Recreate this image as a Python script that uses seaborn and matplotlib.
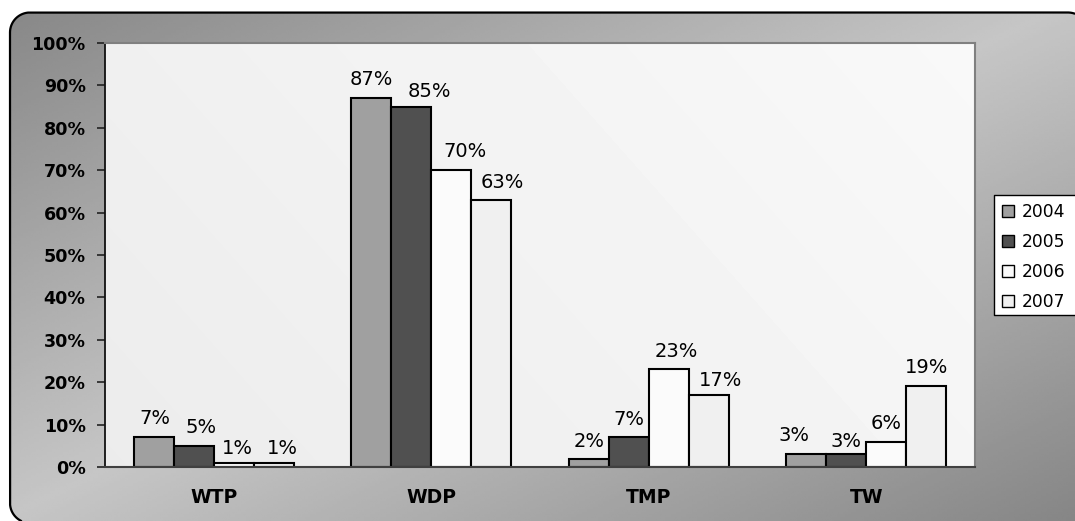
import numpy as np
import pandas as pd
import matplotlib
matplotlib.use("Agg")
import matplotlib.pyplot as plt
import seaborn as sns
from matplotlib.patches import PathPatch, Patch, Rectangle
from matplotlib.path import Path
from matplotlib.lines import Line2D
from matplotlib.transforms import Bbox

# Share of each process per year (percent)
categories = ["WTP", "WDP", "TMP", "TW"]
years = ["2004", "2005", "2006", "2007"]
v2004 = [7, 87, 2, 3]
v2005 = [5, 85, 7, 3]
v2006 = [1, 70, 23, 6]
v2007 = [1, 63, 17, 19]
yticks = list(range(0, 101, 10))
ytick_labels = [f"{t}%" for t in yticks]

series = [v2004, v2005, v2006, v2007]
colors = ["#a0a0a0", "#505050", "#fbfbfb", "#f0f0f0"]

# Label nudges (pixels): horizontal shift and gap between bar top and baseline
label_dx = [[1, 0, 0, -12], [7.5, 18.5, 0.5, 0], [4, 13.5, 8, 0], [9, 11, 11.5, 0]]
label_gap = [[13, 13, 12, 13.5], [12.5, 10, 12, 7.6], [8.8, 13, 12, 12.6], [8.8, 11.8, 9, 13.7]]

df = pd.DataFrame(
    [(c, y, v) for y, vals in zip(years, series) for c, v in zip(categories, vals)],
    columns=["category", "year", "value"],
)

sns.set_style("white")
plt.rcParams["font.family"] = ["DejaVu Sans"]
plt.rcParams["text.color"] = "black"
plt.rcParams["xtick.color"] = "black"
plt.rcParams["ytick.color"] = "black"

W, H = 1075, 521
fig = plt.figure(figsize=(W / 100, H / 100), dpi=100)
fig.patch.set_facecolor("white")


def rounded_rect_points(x0, y0, x1, y1, r, n=80):
    """Outline of a rounded rectangle (y-up pixel frame), counter-clockwise from the top-right corner."""
    pts = []
    corners = [(x1 - r, y1 - r, 0), (x0 + r, y1 - r, 90), (x0 + r, y0 + r, 180), (x1 - r, y0 + r, 270)]
    for cx, cy, a0 in corners:
        a = np.radians(np.linspace(a0, a0 + 90, n))
        pts.extend(zip(cx + r * np.cos(a), cy + r * np.sin(a)))
    return np.array(pts)


# Rounded chart frame with a diagonal grey gradient (pixel frame, y up)
bg = fig.add_axes([0, 0, 1, 1], zorder=-10)
gx, gy = np.meshgrid(np.linspace(0, 1, 400), np.linspace(0, 1, 200))
u = (gx + gy) / 2.0  # row 0 drawn at the top
dark, light = 0x86 / 255, 0xc6 / 255
shade = light - (light - dark) * np.abs(2 * u - 1)
img = bg.imshow(shade, cmap="gray", vmin=0, vmax=1, extent=(0, W, 0, H),
                origin="upper", aspect="auto", interpolation="bilinear", zorder=1)

outline = rounded_rect_points(10, H - 523, 1088, H - 12.5, 20)
# Fill region for the gradient, kept inside the canvas
clip_pts = np.column_stack([np.clip(outline[:, 0], 0, W), np.clip(outline[:, 1], 0, H)])
clip_pts = np.vstack([clip_pts, clip_pts[:1]])
clip_codes = [Path.MOVETO] + [Path.LINETO] * (len(clip_pts) - 2) + [Path.CLOSEPOLY]
clip_patch = PathPatch(Path(clip_pts, clip_codes), facecolor="none", edgecolor="none")
bg.add_patch(clip_patch)
img.set_clip_path(clip_patch)
# Visible stretch of the border (top, left and the two left/top corners)
inside = (outline[:, 0] <= W) & (outline[:, 1] >= 0)
border = outline[inside]
bg.add_line(Line2D(border[:, 0], border[:, 1], color="black", linewidth=1.6,
                   solid_joinstyle="round", zorder=3))
bg.set_xlim(0, W)
bg.set_ylim(0, H)
bg.axis("off")

# Plot area
ax = fig.add_axes([105 / W, 1 - 467 / H, 870 / W, 424 / H])
px, py = np.meshgrid(np.linspace(0, 1, 200), np.linspace(0, 1, 100))
plot_shade = 0.925 + 0.05 * (px * 0.7 + (1 - py) * 0.3)
ax.imshow(plot_shade, cmap="gray", vmin=0, vmax=1, extent=(0, 1, 0, 1),
          transform=ax.transAxes, aspect="auto", interpolation="bilinear", zorder=0)

sns.barplot(data=df, x="category", y="value", hue="year", order=categories,
            hue_order=years, palette=dict(zip(years, colors)), width=0.735,
            saturation=1, edgecolor="black", linewidth=1.5, errorbar=None,
            legend=False, ax=ax, zorder=2)

px2pt = 72 / 100
for container, vals, dxs, gaps in zip(ax.containers, series, label_dx, label_gap):
    for bar, v, dx, gap in zip(container, vals, dxs, gaps):
        ax.annotate(f"{v}%", xy=(bar.get_x() + bar.get_width() / 2, bar.get_height()),
                    xytext=(dx * px2pt, gap * px2pt), textcoords="offset points",
                    ha="center", va="baseline", fontsize=14, color="black")

ax.set_xlim(-0.5, 3.5)
ax.set_ylim(0, 100)
ax.set_yticks(yticks)
ax.set_yticklabels(ytick_labels, fontsize=12.6, fontweight="bold")
ax.set_xticks([-0.5, 0.5, 1.5, 2.5, 3.5])
ax.set_xticklabels([])
ax.set_xticks(range(len(categories)), minor=True)
ax.set_xticklabels(categories, minor=True, fontsize=13.5, fontweight="bold")
ax.tick_params(axis="x", which="major", direction="out", length=6, width=1.2, color="#333333")
ax.tick_params(axis="x", which="minor", length=0, pad=15)
ax.tick_params(axis="y", direction="out", length=6, width=1.2, color="#222222", pad=8, left=True)
ax.set_xlabel("")
ax.set_ylabel("")
ax.grid(False)

ax.spines["left"].set_color("#111111")
ax.spines["left"].set_linewidth(1.3)
ax.spines["bottom"].set_color("#404040")
ax.spines["bottom"].set_linewidth(1.5)
for s in ("top", "right"):
    ax.spines[s].set_color("#808080")
    ax.spines[s].set_linewidth(1.5)

# Legend box runs off the right edge of the chart
lg_top, lg_bot, lg_left = H - 195, H - 315, 994
bg.add_patch(Rectangle((lg_left, lg_bot), W - lg_left, lg_top - lg_bot,
                       facecolor="white", edgecolor="none", zorder=4))
bg.add_line(Line2D([W, lg_left, lg_left, W], [lg_top, lg_top, lg_bot, lg_bot],
                   color="black", linewidth=1.0, zorder=5))

handles = [Patch(facecolor=c, edgecolor="black", linewidth=1) for c in colors]
leg = fig.legend(handles, years, loc="upper left", bbox_to_anchor=(lg_left / W, lg_top / H),
                 frameon=False, fontsize=12.3, handlelength=0.7, handleheight=0.7,
                 handletextpad=0.5, labelspacing=0.7, borderpad=0.45,
                 borderaxespad=0)

# Save exactly the figure area
fig.savefig("out.png", dpi=100, bbox_inches=Bbox([[0, 0], [W / 100, H / 100]]))
